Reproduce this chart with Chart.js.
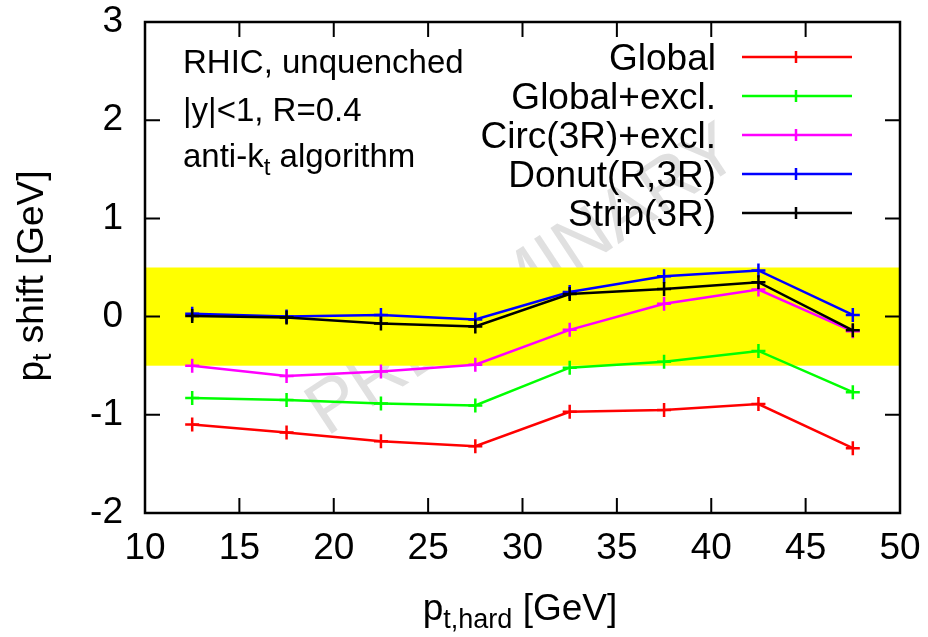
<!DOCTYPE html>
<html>
<head>
<meta charset="utf-8">
<script src="https://cdn.jsdelivr.net/npm/chart.js@4.4.1/dist/chart.umd.min.js"></script>
<style>
  html, body { margin: 0; padding: 0; background: #fff; }
  #wrap { width: 928px; height: 637px; }
</style>
</head>
<body>
<div id="wrap"><canvas id="chart"></canvas></div>
<script>
// data
const ptHard = [12.5, 17.5, 22.5, 27.5, 32.5, 37.5, 42.5, 47.5];
const globalShift = [-1.10, -1.18, -1.27, -1.32, -0.97, -0.95, -0.89, -1.34];
const globalExcl = [-0.83, -0.85, -0.885, -0.905, -0.52, -0.46, -0.35, -0.77];
const circExcl = [-0.50, -0.605, -0.56, -0.49, -0.135, 0.13, 0.275, -0.15];
const donutShift = [0.03, 0.0, 0.017, -0.03, 0.25, 0.41, 0.47, 0.017];
const stripShift = [0.005, -0.01, -0.07, -0.10, 0.23, 0.28, 0.35, -0.14];

const seriesLabels = ['Global', 'Global+excl.', 'Circ(3R)+excl.', 'Donut(R,3R)', 'Strip(3R)'];
const seriesColors = ['#ff0000', '#00ff00', '#ff00ff', '#0000ff', '#000000'];
const seriesValues = [globalShift, globalExcl, circExcl, donutShift, stripShift];

const xTicks = [10, 15, 20, 25, 30, 35, 40, 45, 50];
const yTicks = [-2, -1, 0, 1, 2, 3];
const bandLow = -0.5;
const bandHigh = 0.5;

const FONT = '"Liberation Sans", Arial, sans-serif';

// text with sub-scripts, parts = [[text, size, dy], ...]
function drawRich(ctx, parts, x, y, align) {
    let total = 0;
    parts.forEach(p => {
        ctx.font = p[1] + 'px ' + FONT;
        total += ctx.measureText(p[0]).width;
    });
    let cx = align === 'center' ? x - total / 2 : (align === 'right' ? x - total : x);
    ctx.textAlign = 'left';
    ctx.textBaseline = 'alphabetic';
    parts.forEach(p => {
        ctx.font = p[1] + 'px ' + FONT;
        ctx.fillText(p[0], cx, y + (p[2] || 0));
        cx += ctx.measureText(p[0]).width;
    });
}

const decorPlugin = {
    id: 'decor',
    beforeDatasetsDraw(chart) {
        const ctx = chart.ctx;
        const area = chart.chartArea;
        const ys = chart.scales.y;

        // watermark
        ctx.save();
        ctx.translate(524, 282);
        ctx.rotate(-33.5 * Math.PI / 180);
        ctx.font = '74px ' + FONT;
        ctx.fillStyle = '#e0e0e0';
        ctx.textAlign = 'center';
        ctx.textBaseline = 'middle';
        ctx.fillText('PRELIMINARY', 0, 0);
        ctx.restore();

        // yellow band
        ctx.save();
        ctx.fillStyle = '#ffff00';
        const top = ys.getPixelForValue(bandHigh);
        const bot = ys.getPixelForValue(bandLow);
        ctx.fillRect(area.left, top, area.right - area.left, bot - top);
        ctx.restore();
    },
    afterDatasetsDraw(chart) {
        const ctx = chart.ctx;
        const area = chart.chartArea;
        const xs = chart.scales.x, ys = chart.scales.y;
        const tl = 15;

        ctx.save();
        ctx.strokeStyle = '#000';
        ctx.lineWidth = 2;
        ctx.beginPath();
        xTicks.forEach(v => {
            const px = xs.getPixelForValue(v);
            ctx.moveTo(px, area.bottom); ctx.lineTo(px, area.bottom - tl);
            ctx.moveTo(px, area.top); ctx.lineTo(px, area.top + tl);
        });
        yTicks.forEach(v => {
            const py = ys.getPixelForValue(v);
            ctx.moveTo(area.left, py); ctx.lineTo(area.left + tl, py);
            ctx.moveTo(area.right, py); ctx.lineTo(area.right - tl, py);
        });
        ctx.stroke();
        ctx.lineWidth = 2.5;
        ctx.strokeRect(area.left, area.top, area.right - area.left, area.bottom - area.top);
        ctx.restore();

        // legend
        ctx.save();
        chart.data.datasets.forEach((ds, i) => {
            const y = 57 + i * 39;
            ctx.fillStyle = '#000';
            ctx.font = '37px ' + FONT;
            ctx.textAlign = 'right';
            ctx.textBaseline = 'alphabetic';
            ctx.fillText(ds.label, 716, y + 13);
            ctx.strokeStyle = ds.borderColor;
            ctx.lineWidth = 2.5;
            ctx.beginPath();
            ctx.moveTo(742, y); ctx.lineTo(852, y);
            ctx.moveTo(796, y - 6); ctx.lineTo(796, y + 6);
            ctx.stroke();
        });
        ctx.restore();

        // labels in the frame
        ctx.save();
        ctx.fillStyle = '#000';
        drawRich(ctx, [['RHIC, unquenched', 33]], 183, 73, 'left');
        drawRich(ctx, [['|y|<1, R=0.4', 33]], 183, 121, 'left');
        drawRich(ctx, [['anti-k', 33], ['t', 24, 8], [' algorithm', 33]], 183, 167, 'left');
        ctx.restore();

        // axis titles
        ctx.save();
        ctx.fillStyle = '#000';
        drawRich(ctx, [['p', 37], ['t', 27, 8], [',hard', 27, 8], [' [GeV]', 37]], 520, 620, 'center');
        ctx.translate(43, 276);
        ctx.rotate(-Math.PI / 2);
        drawRich(ctx, [['p', 37], ['t', 27, 8], [' shift [GeV]', 37]], 0, 0, 'center');
        ctx.restore();
    }
};

const datasets = seriesValues.map((vals, i) => ({
    label: seriesLabels[i],
    data: ptHard.map((x, j) => ({ x: x, y: vals[j] })),
    borderColor: seriesColors[i],
    backgroundColor: seriesColors[i],
    borderWidth: 2.5,
    pointStyle: 'cross',
    pointRadius: 7,
    pointBorderWidth: 2.5,
    pointHoverRadius: 7,
    tension: 0,
    order: seriesValues.length - i
}));

new Chart(document.getElementById('chart'), {
    type: 'line',
    data: { datasets: datasets },
    options: {
        responsive: true,
        maintainAspectRatio: false,
        animation: false,
        events: [],
        layout: { padding: { left: 0, top: 22, right: 28, bottom: 0 } },
        plugins: {
            legend: { display: false },
            tooltip: { enabled: false }
        },
        scales: {
            x: {
                type: 'linear',
                min: 10,
                max: 50,
                afterBuildTicks: (scale) => { scale.ticks = xTicks.map(v => ({ value: v })); },
                afterFit: (scale) => {
                    scale.height = 124;
                    scale.paddingLeft = 0; scale.paddingRight = 0;
                },
                grid: { display: false, drawTicks: false },
                border: { display: false },
                ticks: { color: '#000', font: { family: FONT, size: 37 }, padding: 14, maxRotation: 0 }
            },
            y: {
                min: -2,
                max: 3,
                afterBuildTicks: (scale) => { scale.ticks = yTicks.map(v => ({ value: v })); },
                afterFit: (scale) => {
                    scale.width = 145;
                    scale.paddingTop = 0; scale.paddingBottom = 0;
                },
                grid: { display: false, drawTicks: false },
                border: { display: false },
                ticks: { color: '#000', font: { family: FONT, size: 37 }, padding: 22 }
            }
        }
    },
    plugins: [decorPlugin]
});
</script>
</body>
</html>
